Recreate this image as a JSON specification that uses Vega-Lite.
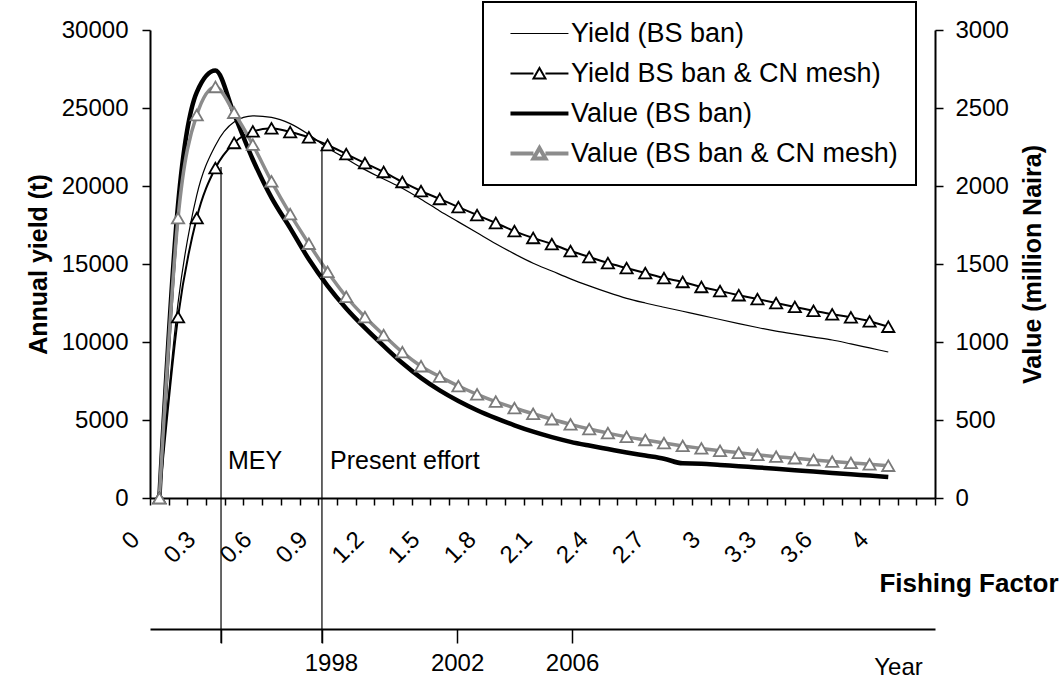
{
  "$schema": "https://vega.github.io/schema/vega-lite/v6.json",
  "width": 785,
  "height": 468,
  "autosize": {"type": "none"},
  "padding": {"left": 150, "top": 30, "right": 126, "bottom": 183},
  "background": "white",
  "config": {
    "font": "Liberation Sans",
    "view": {"stroke": null},
    "axis": {"grid": false, "domainColor": "black", "tickColor": "black", "labelColor": "black", "titleColor": "black", "domainWidth": 2, "tickWidth": 1.5, "labelFontSize": 24, "titleFontSize": 25},
    "legend": {"strokeWidth": 2}
  },
  "datasets": {
    "yield": [
      {"f":0,"s":"Yield (BS ban)","t":0},{"f":0.1,"s":"Yield (BS ban)","t":12500},{"f":0.2,"s":"Yield (BS ban)","t":19400},{"f":0.3,"s":"Yield (BS ban)","t":22600},{"f":0.4,"s":"Yield (BS ban)","t":24100},{"f":0.5,"s":"Yield (BS ban)","t":24500},{"f":0.6,"s":"Yield (BS ban)","t":24400},{"f":0.7,"s":"Yield (BS ban)","t":24000},{"f":0.8,"s":"Yield (BS ban)","t":23300},{"f":0.9,"s":"Yield (BS ban)","t":22450},
      {"f":1.0,"s":"Yield (BS ban)","t":21750},{"f":1.1,"s":"Yield (BS ban)","t":21050},{"f":1.2,"s":"Yield (BS ban)","t":20450},{"f":1.3,"s":"Yield (BS ban)","t":19850},{"f":1.4,"s":"Yield (BS ban)","t":19150},{"f":1.5,"s":"Yield (BS ban)","t":18400},{"f":1.6,"s":"Yield (BS ban)","t":17700},{"f":1.7,"s":"Yield (BS ban)","t":17000},{"f":1.8,"s":"Yield (BS ban)","t":16300},{"f":1.9,"s":"Yield (BS ban)","t":15650},
      {"f":2.0,"s":"Yield (BS ban)","t":15050},{"f":2.1,"s":"Yield (BS ban)","t":14550},{"f":2.2,"s":"Yield (BS ban)","t":14050},{"f":2.3,"s":"Yield (BS ban)","t":13600},{"f":2.4,"s":"Yield (BS ban)","t":13180},{"f":2.5,"s":"Yield (BS ban)","t":12800},{"f":2.6,"s":"Yield (BS ban)","t":12500},{"f":2.7,"s":"Yield (BS ban)","t":12230},{"f":2.8,"s":"Yield (BS ban)","t":11970},{"f":2.9,"s":"Yield (BS ban)","t":11710},
      {"f":3.0,"s":"Yield (BS ban)","t":11440},{"f":3.1,"s":"Yield (BS ban)","t":11180},{"f":3.2,"s":"Yield (BS ban)","t":10930},{"f":3.3,"s":"Yield (BS ban)","t":10700},{"f":3.4,"s":"Yield (BS ban)","t":10500},{"f":3.5,"s":"Yield (BS ban)","t":10310},{"f":3.6,"s":"Yield (BS ban)","t":10130},{"f":3.7,"s":"Yield (BS ban)","t":9880},{"f":3.8,"s":"Yield (BS ban)","t":9620},{"f":3.9,"s":"Yield (BS ban)","t":9360},
      {"f":0,"s":"Yield BS ban & CN mesh)","t":0},{"f":0.1,"s":"Yield BS ban & CN mesh)","t":11600},{"f":0.2,"s":"Yield BS ban & CN mesh)","t":17950},{"f":0.3,"s":"Yield BS ban & CN mesh)","t":21150},{"f":0.4,"s":"Yield BS ban & CN mesh)","t":22760},{"f":0.5,"s":"Yield BS ban & CN mesh)","t":23500},{"f":0.6,"s":"Yield BS ban & CN mesh)","t":23700},{"f":0.7,"s":"Yield BS ban & CN mesh)","t":23460},{"f":0.8,"s":"Yield BS ban & CN mesh)","t":23120},{"f":0.9,"s":"Yield BS ban & CN mesh)","t":22630},
      {"f":1.0,"s":"Yield BS ban & CN mesh)","t":22050},{"f":1.1,"s":"Yield BS ban & CN mesh)","t":21470},{"f":1.2,"s":"Yield BS ban & CN mesh)","t":20900},{"f":1.3,"s":"Yield BS ban & CN mesh)","t":20260},{"f":1.4,"s":"Yield BS ban & CN mesh)","t":19680},{"f":1.5,"s":"Yield BS ban & CN mesh)","t":19170},{"f":1.6,"s":"Yield BS ban & CN mesh)","t":18650},{"f":1.7,"s":"Yield BS ban & CN mesh)","t":18140},{"f":1.8,"s":"Yield BS ban & CN mesh)","t":17630},{"f":1.9,"s":"Yield BS ban & CN mesh)","t":17110},
      {"f":2.0,"s":"Yield BS ban & CN mesh)","t":16670},{"f":2.1,"s":"Yield BS ban & CN mesh)","t":16280},{"f":2.2,"s":"Yield BS ban & CN mesh)","t":15830},{"f":2.3,"s":"Yield BS ban & CN mesh)","t":15450},{"f":2.4,"s":"Yield BS ban & CN mesh)","t":15060},{"f":2.5,"s":"Yield BS ban & CN mesh)","t":14740},{"f":2.6,"s":"Yield BS ban & CN mesh)","t":14420},{"f":2.7,"s":"Yield BS ban & CN mesh)","t":14100},{"f":2.8,"s":"Yield BS ban & CN mesh)","t":13850},{"f":2.9,"s":"Yield BS ban & CN mesh)","t":13530},
      {"f":3.0,"s":"Yield BS ban & CN mesh)","t":13270},{"f":3.1,"s":"Yield BS ban & CN mesh)","t":13000},{"f":3.2,"s":"Yield BS ban & CN mesh)","t":12750},{"f":3.3,"s":"Yield BS ban & CN mesh)","t":12500},{"f":3.4,"s":"Yield BS ban & CN mesh)","t":12250},{"f":3.5,"s":"Yield BS ban & CN mesh)","t":12000},{"f":3.6,"s":"Yield BS ban & CN mesh)","t":11780},{"f":3.7,"s":"Yield BS ban & CN mesh)","t":11580},{"f":3.8,"s":"Yield BS ban & CN mesh)","t":11330},{"f":3.9,"s":"Yield BS ban & CN mesh)","t":10980}
    ],
    "value": [
      {"f":0,"s":"Value (BS ban)","v":0},{"f":0.1,"s":"Value (BS ban)","v":1880},{"f":0.2,"s":"Value (BS ban)","v":2600},{"f":0.3,"s":"Value (BS ban)","v":2740},{"f":0.4,"s":"Value (BS ban)","v":2460},{"f":0.5,"s":"Value (BS ban)","v":2170},{"f":0.6,"s":"Value (BS ban)","v":1925},{"f":0.7,"s":"Value (BS ban)","v":1730},{"f":0.8,"s":"Value (BS ban)","v":1530},{"f":0.9,"s":"Value (BS ban)","v":1360},
      {"f":1.0,"s":"Value (BS ban)","v":1215},{"f":1.1,"s":"Value (BS ban)","v":1090},{"f":1.2,"s":"Value (BS ban)","v":975},{"f":1.3,"s":"Value (BS ban)","v":865},{"f":1.4,"s":"Value (BS ban)","v":770},{"f":1.5,"s":"Value (BS ban)","v":690},{"f":1.6,"s":"Value (BS ban)","v":622},{"f":1.7,"s":"Value (BS ban)","v":563},{"f":1.8,"s":"Value (BS ban)","v":512},{"f":1.9,"s":"Value (BS ban)","v":466},
      {"f":2.0,"s":"Value (BS ban)","v":425},{"f":2.1,"s":"Value (BS ban)","v":390},{"f":2.2,"s":"Value (BS ban)","v":360},{"f":2.3,"s":"Value (BS ban)","v":336},{"f":2.4,"s":"Value (BS ban)","v":314},{"f":2.5,"s":"Value (BS ban)","v":292},{"f":2.6,"s":"Value (BS ban)","v":272},{"f":2.7,"s":"Value (BS ban)","v":252},{"f":2.8,"s":"Value (BS ban)","v":222},{"f":2.9,"s":"Value (BS ban)","v":220},
      {"f":3.0,"s":"Value (BS ban)","v":212},{"f":3.1,"s":"Value (BS ban)","v":204},{"f":3.2,"s":"Value (BS ban)","v":196},{"f":3.3,"s":"Value (BS ban)","v":188},{"f":3.4,"s":"Value (BS ban)","v":178},{"f":3.5,"s":"Value (BS ban)","v":170},{"f":3.6,"s":"Value (BS ban)","v":161},{"f":3.7,"s":"Value (BS ban)","v":152},{"f":3.8,"s":"Value (BS ban)","v":144},{"f":3.9,"s":"Value (BS ban)","v":135},
      {"f":0,"s":"Value (BS ban & CN mesh)","v":0},{"f":0.1,"s":"Value (BS ban & CN mesh)","v":1795},{"f":0.2,"s":"Value (BS ban & CN mesh)","v":2455},{"f":0.3,"s":"Value (BS ban & CN mesh)","v":2635},{"f":0.4,"s":"Value (BS ban & CN mesh)","v":2470},{"f":0.5,"s":"Value (BS ban & CN mesh)","v":2265},{"f":0.6,"s":"Value (BS ban & CN mesh)","v":2030},{"f":0.7,"s":"Value (BS ban & CN mesh)","v":1820},{"f":0.8,"s":"Value (BS ban & CN mesh)","v":1630},{"f":0.9,"s":"Value (BS ban & CN mesh)","v":1450},
      {"f":1.0,"s":"Value (BS ban & CN mesh)","v":1290},{"f":1.1,"s":"Value (BS ban & CN mesh)","v":1160},{"f":1.2,"s":"Value (BS ban & CN mesh)","v":1045},{"f":1.3,"s":"Value (BS ban & CN mesh)","v":935},{"f":1.4,"s":"Value (BS ban & CN mesh)","v":845},{"f":1.5,"s":"Value (BS ban & CN mesh)","v":778},{"f":1.6,"s":"Value (BS ban & CN mesh)","v":718},{"f":1.7,"s":"Value (BS ban & CN mesh)","v":665},{"f":1.8,"s":"Value (BS ban & CN mesh)","v":618},{"f":1.9,"s":"Value (BS ban & CN mesh)","v":577},
      {"f":2.0,"s":"Value (BS ban & CN mesh)","v":540},{"f":2.1,"s":"Value (BS ban & CN mesh)","v":505},{"f":2.2,"s":"Value (BS ban & CN mesh)","v":472},{"f":2.3,"s":"Value (BS ban & CN mesh)","v":442},{"f":2.4,"s":"Value (BS ban & CN mesh)","v":416},{"f":2.5,"s":"Value (BS ban & CN mesh)","v":392},{"f":2.6,"s":"Value (BS ban & CN mesh)","v":372},{"f":2.7,"s":"Value (BS ban & CN mesh)","v":352},{"f":2.8,"s":"Value (BS ban & CN mesh)","v":334},{"f":2.9,"s":"Value (BS ban & CN mesh)","v":318},
      {"f":3.0,"s":"Value (BS ban & CN mesh)","v":303},{"f":3.1,"s":"Value (BS ban & CN mesh)","v":290},{"f":3.2,"s":"Value (BS ban & CN mesh)","v":277},{"f":3.3,"s":"Value (BS ban & CN mesh)","v":265},{"f":3.4,"s":"Value (BS ban & CN mesh)","v":255},{"f":3.5,"s":"Value (BS ban & CN mesh)","v":244},{"f":3.6,"s":"Value (BS ban & CN mesh)","v":234},{"f":3.7,"s":"Value (BS ban & CN mesh)","v":225},{"f":3.8,"s":"Value (BS ban & CN mesh)","v":216},{"f":3.9,"s":"Value (BS ban & CN mesh)","v":207}
    ],
    "notes": [
      {"f": 0.367, "t": 2370, "label": "MEY"},
      {"f": 0.913, "t": 2370, "label": "Present effort"}
    ],
    "markers": [
      {"f": 0.33, "top": 21220, "bottom": -9300},
      {"f": 0.87, "top": 22500, "bottom": -9300}
    ]
  },
  "layer": [
    {
      "data": {"name": "yield"},
      "transform": [{"filter": "datum.s == 'Yield (BS ban)'"}],
      "mark": {"type": "line", "interpolate": "monotone", "strokeWidth": 1.2},
      "encoding": {
        "x": {
          "field": "f", "type": "quantitative",
          "scale": {"domain": [-0.05, 4.15], "nice": false, "zero": false},
          "axis": {
            "orient": "bottom",
            "values": [-0.05,0.05,0.15,0.25,0.35,0.45,0.55,0.65,0.75,0.85,0.95,1.05,1.15,1.25,1.35,1.45,1.55,1.65,1.75,1.85,1.95,2.05,2.15,2.25,2.35,2.45,2.55,2.65,2.75,2.85,2.95,3.05,3.15,3.25,3.35,3.45,3.55,3.65,3.75,3.85,3.95,4.05,4.15],
            "labelExpr": "(round((datum.value + 0.05) * 10) % 3 == 0 && round((datum.value + 0.05) * 10) <= 39) ? (round((datum.value + 0.05) * 10) == 39 ? '4' : '' + round((datum.value + 0.05) * 10) / 10) : ''",
            "labelAngle": -45, "labelAlign": "right", "labelBaseline": "top",
            "labelOffset": -23, "labelPadding": 22, "tickSize": 7,
            "labelOverlap": false, "labelFlush": false,
            "title": "Fishing Factor", "titleFontWeight": "bold", "titleFontSize": 26,
            "titleAlign": "right", "titleBaseline": "middle", "titleX": 908, "titleY": 85
          }
        },
        "y": {
          "field": "t", "type": "quantitative",
          "scale": {"domain": [0, 30000], "nice": false},
          "axis": {
            "orient": "left", "values": [0,5000,10000,15000,20000,25000,30000], "format": "d",
            "tickSize": 8, "labelPadding": 14,
            "title": "Annual yield (t)", "titleFontWeight": "bold", "titlePadding": 10
          }
        },
        "color": {
          "field": "s", "type": "nominal",
          "scale": {"domain": ["Yield (BS ban)", "Yield BS ban & CN mesh)", "Value (BS ban)", "Value (BS ban & CN mesh)"], "range": ["black", "black", "black", "#8c8c8c"]},
          "legend": {
            "orient": "none", "legendX": 333, "legendY": -28, "title": null,
            "strokeColor": "black", "fillColor": "white", "padding": 18, "rowPadding": 12,
            "labelFontSize": 27, "labelLimit": 600, "labelOffset": 43, "labelColor": "black",
            "symbolSize": 676, "symbolType": "stroke",
            "encode": {
              "symbols": {
                "update": {
                  "shape": {"signal": "indexof(datum.value, 'mesh') >= 0 ? 'M-0.31,0H1.46M2.38,0H4.15M1.46,0.38L1.92,-0.42L2.38,0.38Z' : 'M-0.31,0H4.15'"},
                  "strokeWidth": {"signal": "datum.value == 'Yield (BS ban)' ? 1.2 : (datum.value == 'Yield BS ban & CN mesh)' ? 2 : 4)"},
                  "fill": {"value": "white"}
                }
              }
            }
          }
        }
      }
    },
    {
      "data": {"name": "yield"},
      "transform": [{"filter": "datum.s == 'Yield BS ban & CN mesh)'"}],
      "mark": {"type": "line", "interpolate": "monotone", "strokeWidth": 2},
      "encoding": {
        "x": {"field": "f", "type": "quantitative", "scale": {"domain": [-0.05, 4.15], "nice": false, "zero": false}, "axis": null},
        "y": {"field": "t", "type": "quantitative", "scale": {"domain": [0, 30000], "nice": false}, "axis": null},
        "color": {"field": "s", "type": "nominal", "scale": {"domain": ["Yield (BS ban)", "Yield BS ban & CN mesh)", "Value (BS ban)", "Value (BS ban & CN mesh)"], "range": ["black", "black", "black", "#8c8c8c"]}, "legend": null}
      }
    },
    {
      "data": {"name": "value"},
      "transform": [{"filter": "datum.s == 'Value (BS ban)'"}],
      "mark": {"type": "line", "interpolate": "monotone", "strokeWidth": 4.5},
      "encoding": {
        "x": {"field": "f", "type": "quantitative", "scale": {"domain": [-0.05, 4.15], "nice": false, "zero": false}, "axis": null},
        "y": {
          "field": "v", "type": "quantitative",
          "scale": {"domain": [0, 3000], "nice": false},
          "axis": {
            "orient": "right", "values": [0,500,1000,1500,2000,2500,3000], "format": "d",
            "tickSize": 8, "labelPadding": 12,
            "title": "Value (million Naira)", "titleFontWeight": "bold", "titleAngle": 270, "titleBaseline": "top", "titlePadding": 12
          }
        },
        "color": {"field": "s", "type": "nominal", "scale": {"domain": ["Yield (BS ban)", "Yield BS ban & CN mesh)", "Value (BS ban)", "Value (BS ban & CN mesh)"], "range": ["black", "black", "black", "#8c8c8c"]}, "legend": null}
      }
    },
    {
      "data": {"name": "value"},
      "transform": [{"filter": "datum.s == 'Value (BS ban & CN mesh)'"}],
      "mark": {"type": "line", "interpolate": "monotone", "strokeWidth": 3.5},
      "encoding": {
        "x": {"field": "f", "type": "quantitative", "scale": {"domain": [-0.05, 4.15], "nice": false, "zero": false}, "axis": null},
        "y": {"field": "v", "type": "quantitative", "scale": {"domain": [0, 3000], "nice": false}, "axis": null},
        "color": {"field": "s", "type": "nominal", "scale": {"domain": ["Yield (BS ban)", "Yield BS ban & CN mesh)", "Value (BS ban)", "Value (BS ban & CN mesh)"], "range": ["black", "black", "black", "#8c8c8c"]}, "legend": null}
      }
    },
    {
      "data": {"name": "yield"},
      "transform": [{"filter": "datum.s == 'Yield BS ban & CN mesh)'"}],
      "mark": {"type": "point", "shape": "triangle-up", "filled": true, "fill": "white", "stroke": "black", "strokeWidth": 1.8, "size": 150, "opacity": 1},
      "encoding": {
        "x": {"field": "f", "type": "quantitative", "scale": {"domain": [-0.05, 4.15], "nice": false, "zero": false}, "axis": null},
        "y": {"field": "t", "type": "quantitative", "scale": {"domain": [0, 30000], "nice": false}, "axis": null}
      }
    },
    {
      "data": {"name": "value"},
      "transform": [{"filter": "datum.s == 'Value (BS ban & CN mesh)'"}],
      "mark": {"type": "point", "shape": "triangle-up", "filled": true, "fill": "white", "stroke": "#7a7a7a", "strokeWidth": 1.8, "size": 150, "opacity": 1},
      "encoding": {
        "x": {"field": "f", "type": "quantitative", "scale": {"domain": [-0.05, 4.15], "nice": false, "zero": false}, "axis": null},
        "y": {"field": "v", "type": "quantitative", "scale": {"domain": [0, 3000], "nice": false}, "axis": null}
      }
    },
    {
      "data": {"name": "notes"},
      "mark": {"type": "text", "align": "left", "baseline": "middle", "fontSize": 25, "color": "black"},
      "encoding": {
        "x": {"field": "f", "type": "quantitative", "scale": {"domain": [-0.05, 4.15], "nice": false, "zero": false}, "axis": null},
        "y": {"field": "t", "type": "quantitative", "scale": {"domain": [0, 30000], "nice": false}, "axis": null},
        "text": {"field": "label"}
      }
    },
    {
      "data": {"name": "markers"},
      "mark": {"type": "rule", "color": "black", "strokeWidth": 1.2},
      "encoding": {
        "x": {
          "field": "f", "type": "quantitative",
          "scale": {"domain": [-0.05, 4.15], "nice": false, "zero": false},
          "axis": {
            "orient": "bottom", "offset": 131,
            "values": [0.33, 0.87, 1.593, 2.208],
            "labelExpr": "datum.value == 0.87 ? '1998' : (datum.value == 1.593 ? '2002' : (datum.value == 2.208 ? '2006' : ''))",
            "labelAngle": 0, "labelAlign": "center", "labelBaseline": "top",
            "labelOffset": {"condition": {"test": "datum.value < 1", "value": 9}, "value": 0},
            "tickSize": 14, "labelPadding": 8, "labelOverlap": false, "labelFlush": false,
            "title": "Year", "titleFontWeight": "normal", "titleFontSize": 24,
            "titleAlign": "center", "titleBaseline": "middle", "titleX": 748, "titleY": 38
          }
        },
        "y": {"field": "top", "type": "quantitative", "scale": {"domain": [0, 30000], "nice": false}, "axis": null},
        "y2": {"field": "bottom"}
      }
    }
  ],
  "resolve": {"scale": {"y": "independent"}, "axis": {"x": "independent", "y": "independent"}}
}
